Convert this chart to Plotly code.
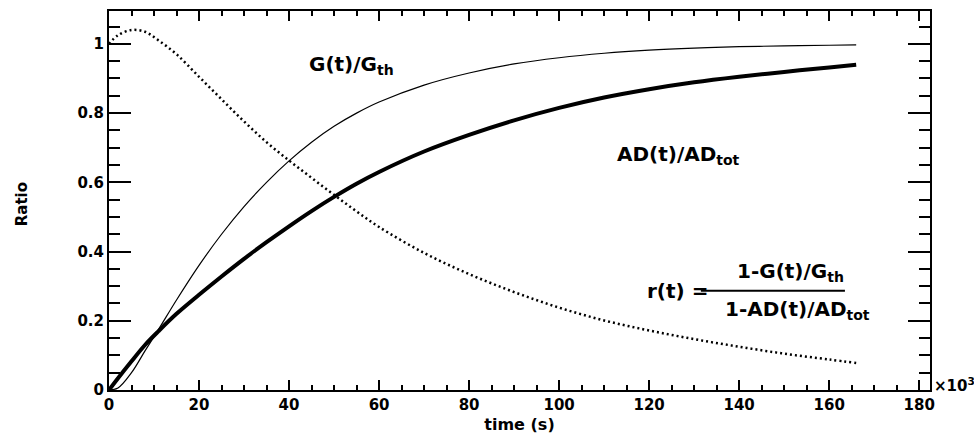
import plotly.graph_objects as go

# time in units of 10^3 s
t = [0, 2, 5, 8, 11, 15, 20, 25, 30, 35, 40, 45, 50, 55, 60, 70, 80, 90,
     100, 110, 120, 130, 140, 150, 160, 166]
g_ratio = [0, 0.006, 0.05, 0.113, 0.175, 0.26, 0.36, 0.45, 0.53, 0.60, 0.662,
           0.716, 0.762, 0.800, 0.832, 0.881, 0.916, 0.942, 0.960, 0.973, 0.982,
           0.988, 0.992, 0.994, 0.996, 0.997]
ad_ratio = [0, 0.034, 0.083, 0.13, 0.17, 0.22, 0.275, 0.328, 0.379, 0.427, 0.473,
            0.517, 0.558, 0.596, 0.630, 0.689, 0.737, 0.779, 0.815, 0.845, 0.869,
            0.889, 0.905, 0.919, 0.932, 0.94]
r_ratio = [1.0, 1.025, 1.04, 1.035, 1.01, 0.97, 0.905, 0.84, 0.776, 0.716, 0.663,
           0.613, 0.564, 0.516, 0.471, 0.396, 0.335, 0.283, 0.238, 0.201, 0.172,
           0.147, 0.125, 0.105, 0.088, 0.078]

FONT = "DejaVu Sans"

fig = go.Figure()
fig.add_trace(go.Scatter(x=t, y=g_ratio, mode="lines", line=dict(color="black", width=1.2, shape="spline")))
fig.add_trace(go.Scatter(x=t, y=ad_ratio, mode="lines", line=dict(color="black", width=4, shape="spline")))
fig.add_trace(go.Scatter(x=t, y=r_ratio, mode="lines",
                         line=dict(color="black", width=2.5, shape="spline", dash="2px,3px")))

lab = dict(family=FONT, size=20, color="black", weight="bold")
ann = [
    dict(x=44, y=0.94, text="G(t)/G<sub>th</sub>", xanchor="left", yanchor="middle"),
    dict(x=112.5, y=0.68, text="AD(t)/AD<sub>tot</sub>", xanchor="left", yanchor="middle"),
    dict(x=119, y=0.287, text="r(t) =", xanchor="left", yanchor="middle"),
    dict(x=151.5, y=0.34, text="1-G(t)/G<sub>th</sub>", xanchor="center", yanchor="middle"),
    dict(x=153, y=0.232, text="1-AD(t)/AD<sub>tot</sub>", xanchor="center", yanchor="middle"),
]
annotations = []
for a in ann:
    a.update(xref="x", yref="y", showarrow=False, font=lab)
    annotations.append(a)

annotations.append(dict(xref="paper", yref="paper", x=1.003, y=-0.018, xanchor="left", yanchor="bottom",
                        text="×10<sup>3</sup>", showarrow=False,
                        font=dict(family=FONT, size=15, color="black", weight="bold")))
annotations.append(dict(xref="paper", yref="paper", x=-0.106, y=0.49, xanchor="center", yanchor="middle",
                        text="Ratio", textangle=-90, showarrow=False,
                        font=dict(family=FONT, size=15, color="black", weight="bold")))

fig.add_shape(type="line", xref="x", yref="y", x0=131.5, x1=163.5, y0=0.287, y1=0.287,
              line=dict(color="black", width=2))

tickfont = dict(family=FONT, size=15, color="black", weight="bold")
fig.update_layout(
    width=974, height=447,
    margin=dict(l=109, r=44, t=9, b=57),
    plot_bgcolor="white", paper_bgcolor="white",
    showlegend=False,
    annotations=annotations,
    xaxis=dict(range=[0, 182.4], dtick=20, tick0=0, ticks="inside", ticklen=10, tickwidth=2,
               tickcolor="black", showline=True, linecolor="black", linewidth=2, mirror="ticks",
               showgrid=False, zeroline=False, tickfont=tickfont,
               minor=dict(dtick=5, ticks="inside", ticklen=5, tickwidth=1.5, tickcolor="black", showgrid=False),
               title=dict(text="time (s)", font=dict(family=FONT, size=16, color="black", weight="bold"),
                          standoff=6)),
    yaxis=dict(range=[0, 1.095], dtick=0.2, tick0=0, ticks="inside", ticklen=22, tickwidth=2,
               tickcolor="black", showline=True, linecolor="black", linewidth=2, mirror="ticks",
               showgrid=False, zeroline=False, tickfont=tickfont,
               minor=dict(dtick=0.05, ticks="inside", ticklen=11, tickwidth=1.5, tickcolor="black", showgrid=False)),
)

fig.write_html("out.html")
